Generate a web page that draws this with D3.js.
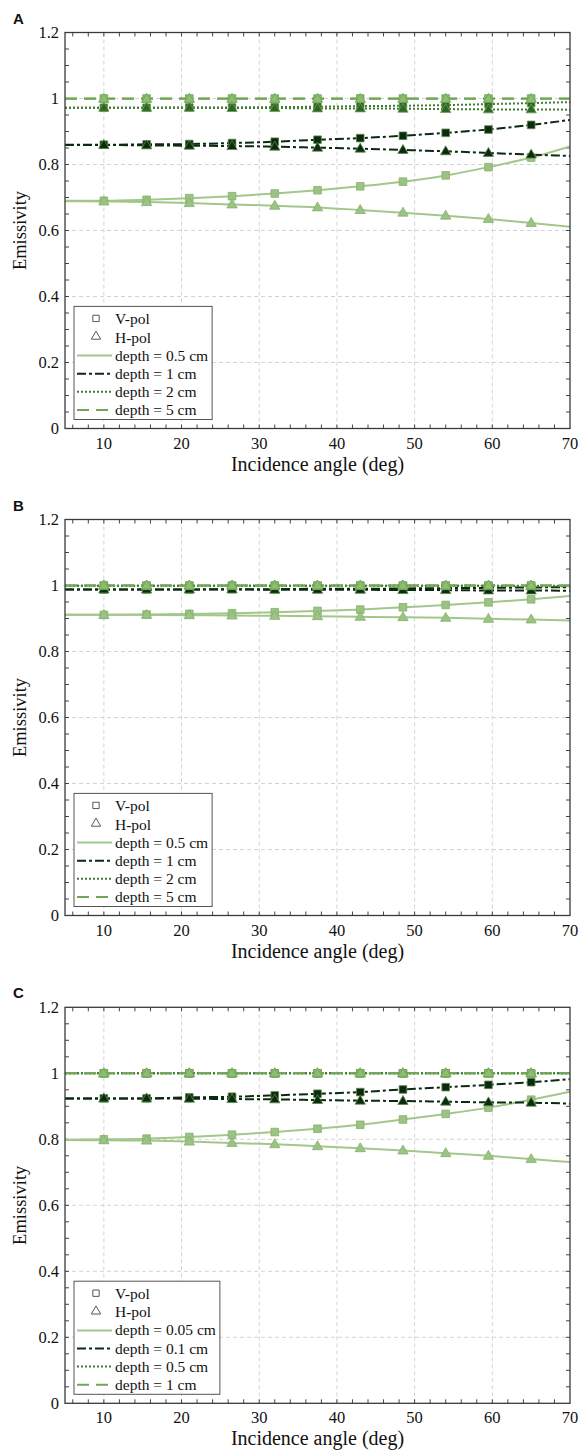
<!DOCTYPE html>
<html>
<head>
<meta charset="utf-8">
<script src="https://cdn.jsdelivr.net/npm/d3@7/dist/d3.min.js"></script>
<style>
  html, body { margin: 0; padding: 0; background: #fff; }
  svg { display: block; }
</style>
</head>
<body>
<div id="chart"></div>
<script>
// ---------------- DATA ----------------
const angles = [5, 10, 15.5, 21, 26.5, 32, 37.5, 43, 48.5, 54, 59.5, 65, 70];
const markerAngles = [10, 15.5, 21, 26.5, 32, 37.5, 43, 48.5, 54, 59.5, 65];

const xTicks = [10, 20, 30, 40, 50, 60, 70];
const yTicks = [0, 0.2, 0.4, 0.6, 0.8, 1, 1.2];
const yTickLabels = ["0", "0.2", "0.4", "0.6", "0.8", "1", "1.2"];

const panelLetters = ["A", "B", "C"];
const depthLabelsAB = ["depth = 0.5 cm", "depth = 1 cm", "depth = 2 cm", "depth = 5 cm"];
const depthLabelsC = ["depth = 0.05 cm", "depth = 0.1 cm", "depth = 0.5 cm", "depth = 1 cm"];
const polLabels = ["V-pol", "H-pol"];

// Panel A
const aD1V = [0.690, 0.690, 0.693, 0.698, 0.704, 0.712, 0.722, 0.734, 0.748, 0.767, 0.792, 0.821, 0.855];
const aD1H = [0.689, 0.688, 0.686, 0.683, 0.679, 0.675, 0.670, 0.662, 0.654, 0.645, 0.635, 0.623, 0.611];
const aD2V = [0.860, 0.860, 0.861, 0.862, 0.865, 0.869, 0.875, 0.880, 0.887, 0.896, 0.906, 0.920, 0.935];
const aD2H = [0.859, 0.859, 0.858, 0.857, 0.856, 0.854, 0.851, 0.848, 0.844, 0.840, 0.835, 0.830, 0.826];
const aD3V = [0.972, 0.972, 0.972, 0.973, 0.973, 0.974, 0.975, 0.977, 0.978, 0.980, 0.983, 0.986, 0.989];
const aD3H = [0.972, 0.972, 0.972, 0.972, 0.971, 0.971, 0.970, 0.970, 0.969, 0.968, 0.967, 0.967, 0.966];
const aD4V = [1.000, 1.000, 1.000, 1.000, 1.000, 1.000, 1.000, 1.000, 1.000, 1.000, 1.000, 1.000, 1.000];
const aD4H = [0.999, 0.999, 0.999, 0.999, 0.999, 0.999, 0.999, 0.999, 0.999, 0.999, 0.999, 0.999, 0.999];

// Panel B
const bD1V = [0.911, 0.911, 0.912, 0.914, 0.916, 0.919, 0.923, 0.927, 0.934, 0.941, 0.949, 0.958, 0.968];
const bD1H = [0.911, 0.911, 0.911, 0.910, 0.909, 0.908, 0.907, 0.905, 0.904, 0.902, 0.899, 0.897, 0.894];
const bD2V = [0.988, 0.988, 0.988, 0.988, 0.989, 0.989, 0.990, 0.990, 0.991, 0.992, 0.993, 0.994, 0.995];
const bD2H = [0.988, 0.988, 0.988, 0.988, 0.988, 0.987, 0.987, 0.987, 0.986, 0.986, 0.985, 0.985, 0.984];
const bD3V = [0.999, 0.999, 0.999, 0.999, 0.999, 0.999, 0.999, 0.999, 0.999, 0.999, 0.999, 0.999, 0.999];
const bD3H = [0.999, 0.999, 0.999, 0.999, 0.999, 0.999, 0.999, 0.999, 0.999, 0.999, 0.999, 0.998, 0.998];
const bD4V = [1.000, 1.000, 1.000, 1.000, 1.000, 1.000, 1.000, 1.000, 1.000, 1.000, 1.000, 1.000, 1.000];
const bD4H = [1.000, 1.000, 1.000, 1.000, 1.000, 1.000, 1.000, 1.000, 1.000, 1.000, 1.000, 1.000, 1.000];

// Panel C
const cD1V = [0.799, 0.800, 0.802, 0.807, 0.814, 0.822, 0.832, 0.844, 0.860, 0.877, 0.896, 0.920, 0.944];
const cD1H = [0.798, 0.797, 0.796, 0.793, 0.789, 0.785, 0.779, 0.773, 0.766, 0.758, 0.750, 0.740, 0.731];
const cD2V = [0.924, 0.924, 0.924, 0.927, 0.929, 0.933, 0.938, 0.943, 0.951, 0.958, 0.965, 0.973, 0.982];
const cD2H = [0.924, 0.924, 0.924, 0.923, 0.922, 0.921, 0.919, 0.917, 0.916, 0.914, 0.912, 0.911, 0.908];
const cD3V = [1.000, 1.000, 1.000, 1.000, 1.000, 1.000, 1.000, 1.000, 1.000, 1.000, 1.000, 1.000, 1.000];
const cD3H = [1.000, 1.000, 1.000, 1.000, 1.000, 1.000, 1.000, 1.000, 1.000, 1.000, 1.000, 1.000, 1.000];
const cD4V = [1.000, 1.000, 1.000, 1.000, 1.000, 1.000, 1.000, 1.000, 1.000, 1.000, 1.000, 1.000, 1.000];
const cD4H = [1.000, 1.000, 1.000, 1.000, 1.000, 1.000, 1.000, 1.000, 1.000, 1.000, 1.000, 1.000, 1.000];

// ---------------- STYLE ----------------
const styles = [
  { line: "#a3c78b", dash: null,       width: 2.0, mfill: "#9dc286", mstroke: "#84b16a" },
  { line: "#0b2a10", dash: "9,3,3,3",  width: 2.0, mfill: "#0b2a10", mstroke: "#5a8a48" },
  { line: "#3f7c30", dash: "2,2",      width: 2.0, mfill: "#2f6525", mstroke: "#6e9e55" },
  { line: "#72a657", dash: "12,7",     width: 2.0, mfill: "#8dbd70", mstroke: "#6fa353" }
];

const panels = [
  { letter: panelLetters[0], labels: depthLabelsAB, V: [aD1V, aD2V, aD3V, aD4V], H: [aD1H, aD2H, aD3H, aD4H] },
  { letter: panelLetters[1], labels: depthLabelsAB, V: [bD1V, bD2V, bD3V, bD4V], H: [bD1H, bD2H, bD3H, bD4H] },
  { letter: panelLetters[2], labels: depthLabelsC,  V: [cD1V, cD2V, cD3V, cD4V], H: [cD1H, cD2H, cD3H, cD4H] }
];

// ---------------- LAYOUT ----------------
const W = 579, H = 1453;
const plotLeft = 65, plotRight = 570, plotH = 396;
const panelTops = [32.5, 519.5, 1007.3];
const serif = "'Liberation Serif', 'Times New Roman', serif";

const svg = d3.select("#chart").append("svg").attr("width", W).attr("height", H);

const x = d3.scaleLinear().domain([5, 70]).range([plotLeft, plotRight]);

const sqSym = d3.symbol().type(d3.symbolSquare).size(58);
const triSym = d3.symbol().type(d3.symbolTriangle).size(46);

panels.forEach((p, pi) => {
  const top = panelTops[pi];
  const bottom = top + plotH;
  const y = d3.scaleLinear().domain([0, 1.2]).range([bottom, top]);
  const g = svg.append("g");

  const clipId = "clip" + pi;
  svg.append("clipPath").attr("id", clipId).append("rect")
    .attr("x", plotLeft).attr("y", top).attr("width", plotRight - plotLeft).attr("height", plotH);

  // grid
  const grid = g.append("g").attr("stroke", "#d4d4d4").attr("stroke-width", 1).attr("stroke-dasharray", "4,3");
  xTicks.filter(t => t < 70).forEach(t => {
    grid.append("line").attr("x1", x(t)).attr("x2", x(t)).attr("y1", top).attr("y2", bottom);
  });
  yTicks.filter(t => t > 0 && t < 1.2).forEach(t => {
    grid.append("line").attr("x1", plotLeft).attr("x2", plotRight).attr("y1", y(t)).attr("y2", y(t));
  });

  // ticks inside, all four sides
  const tk = g.append("g").attr("stroke", "#444").attr("stroke-width", 1);
  const tl = 4;
  d3.range(6, 70, 2).forEach(t => {
    tk.append("line").attr("x1", x(t)).attr("x2", x(t)).attr("y1", bottom).attr("y2", bottom - tl);
    tk.append("line").attr("x1", x(t)).attr("x2", x(t)).attr("y1", top).attr("y2", top + tl);
  });
  d3.range(1, 24).forEach(k => {
    const t = k * 0.05;
    tk.append("line").attr("x1", plotLeft).attr("x2", plotLeft + tl).attr("y1", y(t)).attr("y2", y(t));
    tk.append("line").attr("x1", plotRight).attr("x2", plotRight - tl).attr("y1", y(t)).attr("y2", y(t));
  });

  // series lines
  const lg = g.append("g").attr("clip-path", `url(#${clipId})`);
  const line = d3.line().x((d, i) => x(angles[i])).y(d => y(d)).curve(d3.curveMonotoneX);
  const mg = g.append("g");
  for (let s = 0; s < 4; s++) {
    const st = styles[s];
    [p.V[s], p.H[s]].forEach(arr => {
      lg.append("path").attr("d", line(arr)).attr("fill", "none")
        .attr("stroke", st.line).attr("stroke-width", st.width)
        .attr("stroke-dasharray", st.dash);
    });
  }
  // markers
  for (let s = 0; s < 4; s++) {
    const st = styles[s];
    const sg = mg.append("g");
    angles.forEach((a, i) => {
      if (!markerAngles.includes(a)) return;
      sg.append("path").attr("d", sqSym).attr("transform", `translate(${x(a)},${y(p.V[s][i])})`)
        .attr("fill", st.mfill).attr("stroke", st.mstroke).attr("stroke-width", 0.8);
      sg.append("path").attr("d", triSym).attr("transform", `translate(${x(a)},${y(p.H[s][i]) + 0.5})`)
        .attr("fill", st.mfill).attr("stroke", st.mstroke).attr("stroke-width", 0.8);
    });
  }

  // frame
  g.append("rect").attr("x", plotLeft).attr("y", top).attr("width", plotRight - plotLeft).attr("height", plotH)
    .attr("fill", "none").attr("stroke", "#3a3a3a").attr("stroke-width", 1.3);

  // tick labels
  const yl = g.append("g").attr("font-family", serif).attr("font-size", 16.5).attr("fill", "#111");
  yTicks.forEach((t, i) => {
    yl.append("text").attr("x", plotLeft - 6).attr("y", y(t) + 5.5).attr("text-anchor", "end").text(yTickLabels[i]);
  });
  xTicks.forEach(t => {
    yl.append("text").attr("x", x(t)).attr("y", bottom + 20).attr("text-anchor", "middle").text(t);
  });

  // axis labels
  g.append("text").attr("font-family", serif).attr("font-size", 20).attr("fill", "#111")
    .attr("text-anchor", "middle").attr("x", (plotLeft + plotRight) / 2).attr("y", bottom + 42)
    .text("Incidence angle (deg)");
  g.append("text").attr("font-family", serif).attr("font-size", 18.5).attr("fill", "#111")
    .attr("text-anchor", "middle")
    .attr("transform", `translate(26,${(top + bottom) / 2}) rotate(-90)`)
    .text("Emissivity");

  // panel letter
  g.append("text").attr("font-family", "'Liberation Sans', Arial, sans-serif").attr("font-weight", "bold")
    .attr("font-size", 15).attr("fill", "#111").attr("x", 13).attr("y", top - 9).text(p.letter);

  // legend
  const rowH = 18.1;
  const legBottom = bottom - 9;
  const nRows = 6;
  const legTop = legBottom - (nRows * rowH + 4.5);
  const legLeft = plotLeft + 9;
  const leg = g.append("g");
  const box = leg.append("rect").attr("x", legLeft).attr("y", legTop).attr("height", legBottom - legTop)
    .attr("fill", "#fff").attr("stroke", "#555").attr("stroke-width", 1);
  const textX = legLeft + 41;
  let maxW = 0;
  const rowY = k => legTop + 13 + k * rowH;
  leg.append("path").attr("d", d3.symbol().type(d3.symbolSquare).size(40))
    .attr("transform", `translate(${legLeft + 22},${rowY(0) - 1})`)
    .attr("fill", "none").attr("stroke", "#444").attr("stroke-width", 0.9);
  leg.append("path").attr("d", d3.symbol().type(d3.symbolTriangle).size(38))
    .attr("transform", `translate(${legLeft + 22},${rowY(1) - 1})`)
    .attr("fill", "none").attr("stroke", "#444").attr("stroke-width", 0.9);
  const allLabels = polLabels.concat(p.labels);
  allLabels.forEach((lab, k) => {
    const t = leg.append("text").attr("font-family", serif).attr("font-size", 15.5).attr("fill", "#111")
      .attr("x", textX).attr("y", rowY(k) + 5).text(lab);
    maxW = Math.max(maxW, t.node().getComputedTextLength());
    if (k >= 2) {
      const st = styles[k - 2];
      leg.append("line").attr("x1", legLeft + 3).attr("x2", legLeft + 38)
        .attr("y1", rowY(k)).attr("y2", rowY(k))
        .attr("stroke", st.line).attr("stroke-width", st.width).attr("stroke-dasharray", st.dash);
    }
  });
  box.attr("width", textX - legLeft + maxW + 4);
});
</script>
</body>
</html>
